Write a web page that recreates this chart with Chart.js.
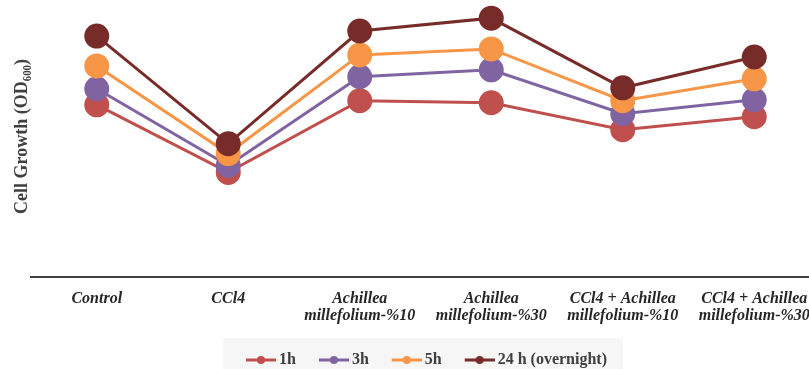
<!DOCTYPE html>
<html>
<head>
<meta charset="utf-8">
<script src="https://cdn.jsdelivr.net/npm/chart.js@4/dist/chart.umd.min.js"></script>
<style>
  html, body { margin: 0; padding: 0; background: #fff; overflow: hidden; }
  #wrap { width: 834px; height: 369px; position: relative; }
</style>
</head>
<body>
<div id="wrap"><canvas id="myChart"></canvas></div>
<script>
// categories and series (OD600)
var groups = [
  "Control",
  "CCl4",
  ["Achillea", "millefolium-%10"],
  ["Achillea", "millefolium-%30"],
  ["CCl4 + Achillea", "millefolium-%10"],
  ["CCl4 + Achillea", "millefolium-%30"]
];
var seriesNames = ["1h", "3h", "5h", "24 h (overnight)"];
var h1 = [0.749, 0.455, 0.767, 0.758, 0.641, 0.697];
var h3 = [0.819, 0.485, 0.871, 0.901, 0.710, 0.771];
var h5 = [0.918, 0.537, 0.966, 0.992, 0.767, 0.862];
var h24 = [1.048, 0.580, 1.070, 1.126, 0.823, 0.957];
var kulorer = ["#c0504d", "#8064a2", "#f79646", "#772c2a"];

// line+dot marker for the legend (left part transparent = extra gap)
function markör(color) {
  var c = document.createElement("canvas");
  c.width = 46; c.height = 10;
  var g = c.getContext("2d");
  g.strokeStyle = color; g.lineWidth = 3;
  g.beginPath(); g.moveTo(16, 5); g.lineTo(46, 5); g.stroke();
  g.fillStyle = color;
  g.beginPath(); g.arc(31, 5, 4, 0, Math.PI * 2); g.fill();
  return c;
}

var allData = [h1, h3, h5, h24];
var datasets = allData.map(function (d, i) {
  return {
    label: seriesNames[i],
    data: d,
    borderColor: kulorer[i],
    backgroundColor: kulorer[i],
    pointBackgroundColor: kulorer[i],
    pointBorderColor: kulorer[i],
    borderWidth: 3,
    pointRadius: 11,
    pointHoverRadius: 11,
    pointStyle: "circle",
    order: 3 - i,
    clip: false
  };
});

// nudge the legend + grey band behind it
const legendBg = {
  id: "legendBg",
  afterLayout(chart) {
    var l = chart.legend;
    l.left += 4; l.right += 4;
    l.top += 9; l.bottom += 9;
    if (l.adjustHitBoxes) l.adjustHitBoxes();
  },
  beforeDraw(chart) {
    var ctx = chart.ctx;
    ctx.save();
    ctx.fillStyle = "#f6f6f6";
    ctx.fillRect(223, 338, 400, 31);
    ctx.restore();
  }
};

new Chart("myChart", {
  type: "line",
  data: { labels: groups, datasets: datasets },
  plugins: [legendBg],
  options: {
    responsive: true,
    maintainAspectRatio: false,
    animation: false,
    layout: { padding: 0 },
    scales: {
      x: {
        offset: true,
        grid: { display: false },
        border: { display: true, color: "#404040", width: 2 },
        ticks: {
          autoSkip: false,
          maxRotation: 0,
          color: "#262626",
          padding: 5,
          font: { family: "Liberation Serif", size: 16, weight: "bold", style: "italic", lineHeight: 1.06 }
        },
        afterFit: function (s) { s.height = 54; }
      },
      y: {
        min: 0,
        max: 1.144,
        grid: { display: false },
        border: { display: false },
        ticks: { display: false },
        title: {
          display: true,
          text: "\u2002\u2002Cell Growth (OD₆₀₀)",
          color: "#404040",
          padding: { top: 12, bottom: 0 },
          font: { family: "Liberation Serif", size: 18, weight: "bold" }
        },
        afterFit: function (s) { s.width = 31; }
      }
    },
    plugins: {
      legend: {
        position: "bottom",
        labels: {
          usePointStyle: true,
          pointStyleWidth: 36,
          boxHeight: 10,
          padding: 12,
          color: "#404040",
          font: { family: "Liberation Serif", size: 16, weight: "bold" },
          generateLabels: function (chart) {
            return chart.data.datasets.map(function (ds, i) {
              return {
                text: ds.label,
                fillStyle: ds.borderColor,
                strokeStyle: ds.borderColor,
                fontColor: "#404040",
                pointStyle: markör(ds.borderColor),
                datasetIndex: i
              };
            });
          }
        }
      },
      tooltip: { enabled: false }
    }
  }
});
</script>
</body>
</html>
